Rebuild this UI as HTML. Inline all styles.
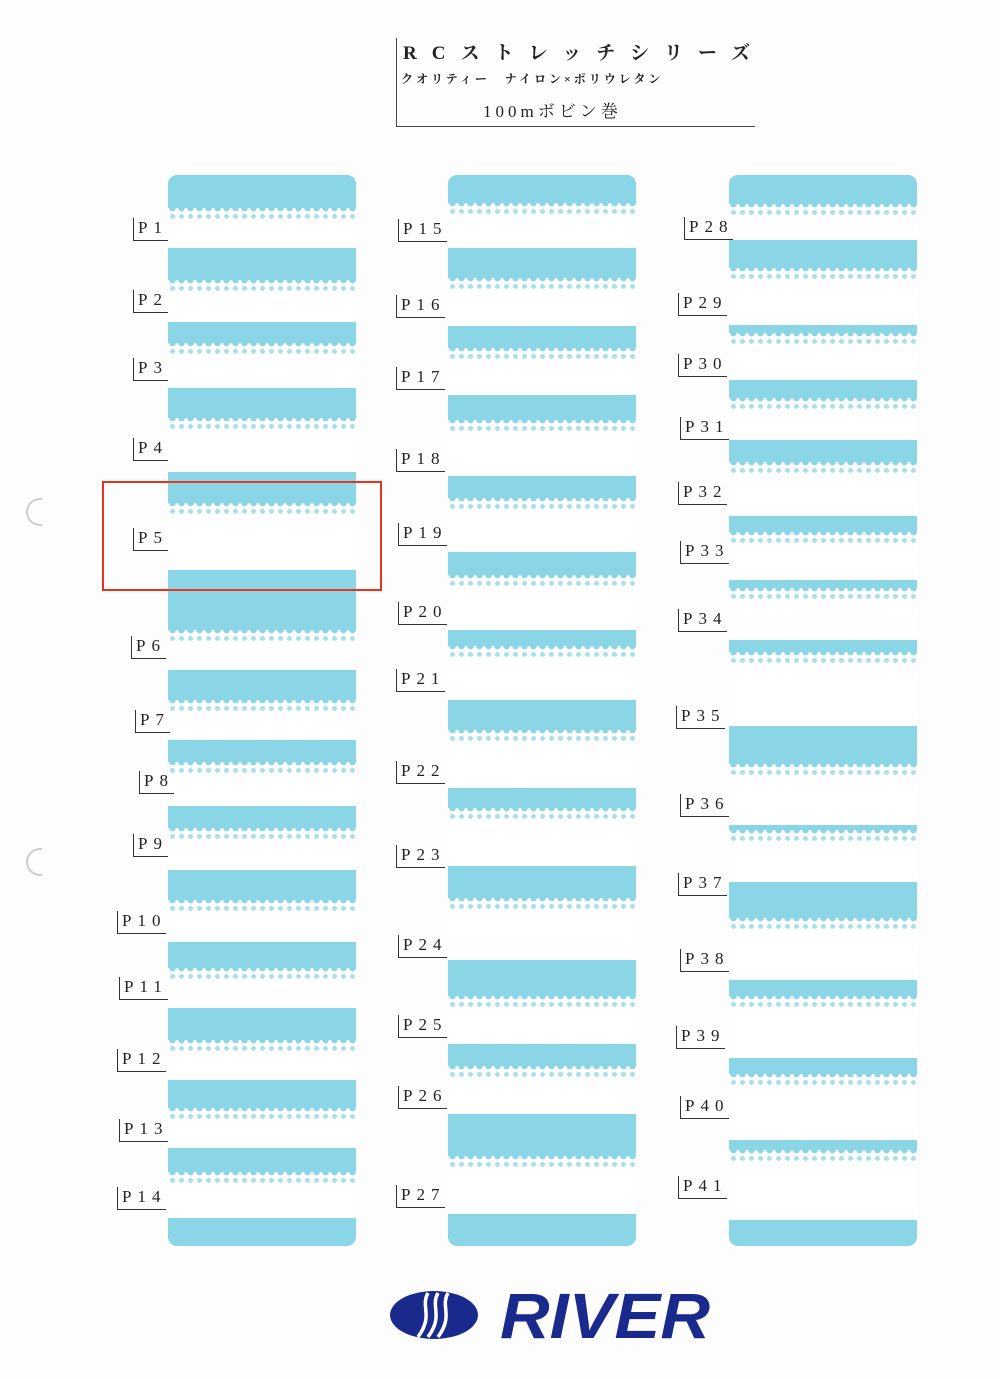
<!DOCTYPE html>
<html><head><meta charset="utf-8"><style>
body{margin:0;background:#fff;}
#w{position:relative;width:1000px;height:1379px;overflow:hidden;background:#fdfdfd;font-family:"Liberation Serif","Noto Serif CJK SC",serif;}
.p{position:absolute;top:175px;height:1071px;width:188px;background:#8ad6e6;border-radius:9px;}
.s{position:absolute;left:0;width:100%;background:#fff;}
.s::before{content:"";position:absolute;left:0;right:0;top:0;height:14px;background:radial-gradient(circle at 50% 0,#8ad6e6 3px,transparent 3.6px) 0 0/9px 6px repeat-x,radial-gradient(ellipse 2.5px 2.5px at 50% 60%,#a8e0ec 95%,transparent) 0 0/9px 14px repeat-x;}
.l{position:absolute;font-size:17px;letter-spacing:6px;color:#222;border-left:1px solid #333;border-bottom:1px solid #333;padding:2px 0 4px 4px;line-height:16px;}
.h{position:absolute;left:396px;top:38px;width:358px;height:88px;border-left:1px solid #444;border-bottom:1px solid #444;font-family:"Liberation Serif","Noto Serif CJK JP",serif;color:#222;}
.c{position:absolute;left:26px;width:14px;height:24px;border:2px solid #ccc;border-right:none;border-radius:14px 0 0 14px;}
</style></head><body><div id="w">
<div class="h">
<div style="position:absolute;left:6px;top:0px;font-size:19px;font-weight:bold;letter-spacing:15px;white-space:nowrap">RCストレッチシリーズ</div>
<div style="position:absolute;left:4px;top:32px;font-size:12px;font-weight:bold;letter-spacing:3px;white-space:nowrap">クオリティー　ナイロン×ポリウレタン</div>
<div style="position:absolute;left:86px;top:59px;font-size:17px;letter-spacing:4px;white-space:nowrap">100mボビン巻</div>
</div>
<div class="c" style="top:498px"></div>
<div class="c" style="top:848px"></div>

<div class="p" style="left:168px">
<div class="s" style="top:33px;height:40px"></div>
<div class="s" style="top:105px;height:42px"></div>
<div class="s" style="top:168px;height:45px"></div>
<div class="s" style="top:243px;height:54px"></div>
<div class="s" style="top:328px;height:67px"></div>
<div class="s" style="top:455px;height:40px"></div>
<div class="s" style="top:525px;height:40px"></div>
<div class="s" style="top:587px;height:44px"></div>
<div class="s" style="top:653px;height:42px"></div>
<div class="s" style="top:725px;height:42px"></div>
<div class="s" style="top:793px;height:40px"></div>
<div class="s" style="top:865px;height:40px"></div>
<div class="s" style="top:933px;height:40px"></div>
<div class="s" style="top:997px;height:46px"></div>
</div>
<div class="p" style="left:448px">
<div class="s" style="top:28px;height:45px"></div>
<div class="s" style="top:103px;height:48px"></div>
<div class="s" style="top:173px;height:47px"></div>
<div class="s" style="top:245px;height:56px"></div>
<div class="s" style="top:323px;height:54px"></div>
<div class="s" style="top:400px;height:55px"></div>
<div class="s" style="top:471px;height:54px"></div>
<div class="s" style="top:555px;height:58px"></div>
<div class="s" style="top:633px;height:58px"></div>
<div class="s" style="top:723px;height:62px"></div>
<div class="s" style="top:821px;height:48px"></div>
<div class="s" style="top:891px;height:48px"></div>
<div class="s" style="top:981px;height:58px"></div>
</div>
<div class="p" style="left:729px">
<div class="s" style="top:29px;height:36px"></div>
<div class="s" style="top:93px;height:57px"></div>
<div class="s" style="top:158px;height:47px"></div>
<div class="s" style="top:223px;height:42px"></div>
<div class="s" style="top:287px;height:54px"></div>
<div class="s" style="top:357px;height:48px"></div>
<div class="s" style="top:413px;height:52px"></div>
<div class="s" style="top:477px;height:74px"></div>
<div class="s" style="top:589px;height:61px"></div>
<div class="s" style="top:655px;height:52px"></div>
<div class="s" style="top:743px;height:62px"></div>
<div class="s" style="top:821px;height:62px"></div>
<div class="s" style="top:899px;height:66px"></div>
<div class="s" style="top:975px;height:70px"></div>
</div>

<div class="l" style="left:133px;top:218px">P1</div>
<div class="l" style="left:133px;top:290px">P2</div>
<div class="l" style="left:133px;top:358px">P3</div>
<div class="l" style="left:133px;top:438px">P4</div>
<div class="l" style="left:133px;top:528px">P5</div>
<div class="l" style="left:131px;top:636px">P6</div>
<div class="l" style="left:135px;top:710px">P7</div>
<div class="l" style="left:139px;top:771px">P8</div>
<div class="l" style="left:133px;top:834px">P9</div>
<div class="l" style="left:117px;top:911px">P10</div>
<div class="l" style="left:119px;top:977px">P11</div>
<div class="l" style="left:117px;top:1049px">P12</div>
<div class="l" style="left:119px;top:1119px">P13</div>
<div class="l" style="left:117px;top:1187px">P14</div>

<div class="l" style="left:398px;top:219px">P15</div>
<div class="l" style="left:396px;top:295px">P16</div>
<div class="l" style="left:396px;top:367px">P17</div>
<div class="l" style="left:396px;top:449px">P18</div>
<div class="l" style="left:398px;top:523px">P19</div>
<div class="l" style="left:398px;top:602px">P20</div>
<div class="l" style="left:396px;top:669px">P21</div>
<div class="l" style="left:396px;top:761px">P22</div>
<div class="l" style="left:396px;top:845px">P23</div>
<div class="l" style="left:398px;top:935px">P24</div>
<div class="l" style="left:398px;top:1015px">P25</div>
<div class="l" style="left:398px;top:1086px">P26</div>
<div class="l" style="left:396px;top:1185px">P27</div>

<div class="l" style="left:684px;top:217px">P28</div>
<div class="l" style="left:678px;top:293px">P29</div>
<div class="l" style="left:678px;top:354px">P30</div>
<div class="l" style="left:680px;top:417px">P31</div>
<div class="l" style="left:678px;top:482px">P32</div>
<div class="l" style="left:680px;top:541px">P33</div>
<div class="l" style="left:678px;top:609px">P34</div>
<div class="l" style="left:676px;top:706px">P35</div>
<div class="l" style="left:680px;top:794px">P36</div>
<div class="l" style="left:678px;top:873px">P37</div>
<div class="l" style="left:680px;top:949px">P38</div>
<div class="l" style="left:676px;top:1026px">P39</div>
<div class="l" style="left:680px;top:1096px">P40</div>
<div class="l" style="left:678px;top:1176px">P41</div>

<div style="position:absolute;left:102px;top:481px;width:276px;height:106px;border:2.5px solid #e8341c"></div>

<svg style="position:absolute;left:390px;top:1285px" width="330" height="60" viewBox="0 0 330 60">
<ellipse cx="44" cy="30" rx="44" ry="24" fill="#1a2a8c"/>
<path d="M38 8 C30 22 44 30 28 52 M48 8 C40 22 54 30 38 52 M58 8 C50 22 64 30 48 52" stroke="#fff" stroke-width="3.5" fill="none"/>
<text x="110" y="53" font-family="Liberation Sans,sans-serif" font-weight="bold" font-style="italic" font-size="64" fill="#1a2a8c" textLength="210" lengthAdjust="spacingAndGlyphs">RIVER</text>
</svg>
</div></body></html>
